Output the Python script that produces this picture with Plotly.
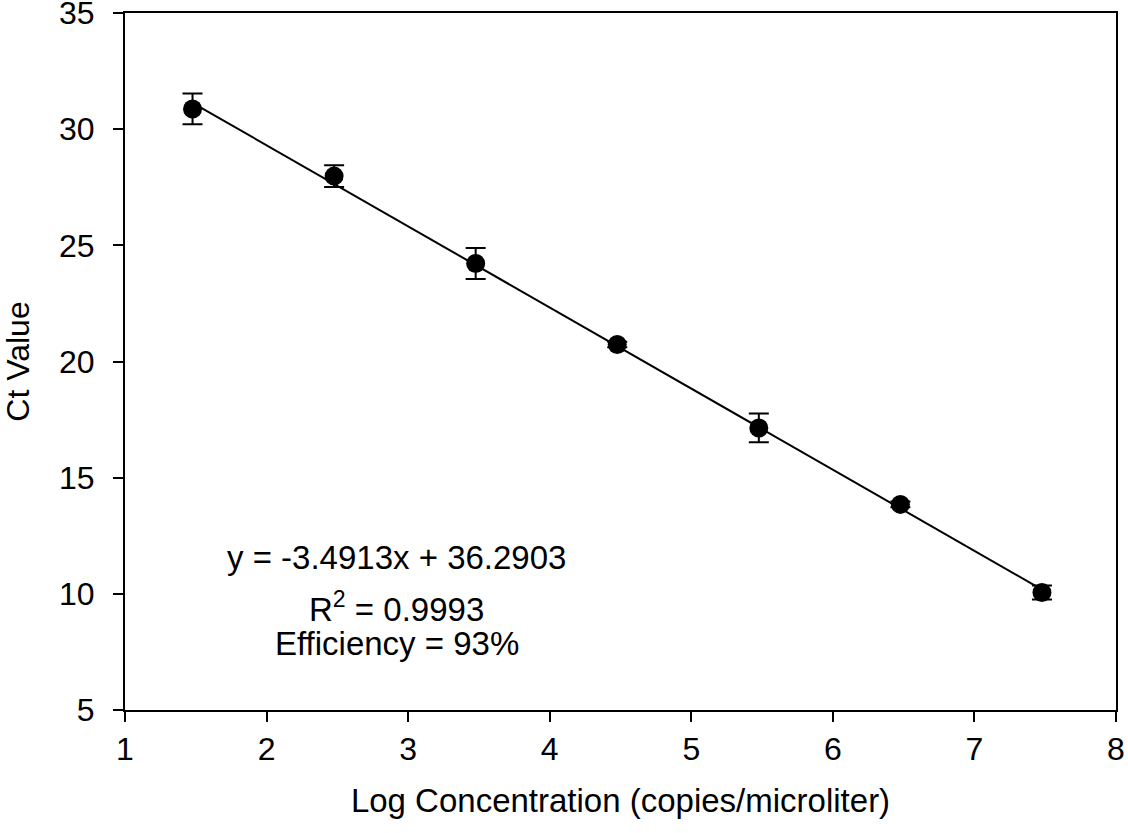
import plotly.graph_objects as go

log_conc = [1.477, 2.477, 3.477, 4.477, 5.477, 6.477, 7.477]
ct_mean = [30.87, 27.98, 24.22, 20.73, 17.14, 13.85, 10.06]
ct_err = [0.66, 0.47, 0.67, 0.12, 0.62, 0.12, 0.30]
slope = -3.4913
intercept = 36.2903
fit_x = [log_conc[0], log_conc[-1]]
fit_y = [slope * v + intercept for v in fit_x]

x_ticks = [1, 2, 3, 4, 5, 6, 7, 8]
y_ticks = [5, 10, 15, 20, 25, 30, 35]

font = "Liberation Sans, Arial, sans-serif"

fig = go.Figure()
fig.add_trace(go.Scatter(x=fit_x, y=fit_y, mode="lines",
                         line=dict(color="black", width=2), showlegend=False))
fig.add_trace(go.Scatter(x=log_conc, y=ct_mean, mode="markers",
                         marker=dict(color="black", size=19),
                         error_y=dict(type="data", array=ct_err, color="black",
                                      thickness=2, width=10),
                         showlegend=False))

ann_lines = ["y = -3.4913x + 36.2903", "R<sup>2</sup> = 0.9993", "Efficiency = 93%"]
ann_y = [11.58, 9.43, 7.85]
for t, yy in zip(ann_lines, ann_y):
    fig.add_annotation(x=2.92, y=yy, xref="x", yref="y", text=t, showarrow=False,
                       yanchor="middle",
                       font=dict(family=font, size=33, color="black"))

fig.update_layout(
    width=1128, height=833,
    margin=dict(l=125, r=12, t=13, b=123),
    plot_bgcolor="white", paper_bgcolor="white",
    font=dict(family=font, size=32, color="black"),
)
fig.update_xaxes(range=[1, 8], tickvals=x_ticks, automargin=False,
                 ticklabeloverflow="allow",
                 showgrid=False, zeroline=False, showline=True, linecolor="black",
                 linewidth=2, mirror=True, ticks="outside", ticklen=10,
                 tickwidth=2, tickcolor="black", tickfont=dict(size=32),
                 title=dict(text="Log Concentration (copies/microliter)",
                            font=dict(size=33), standoff=22))
fig.update_yaxes(range=[5, 35], tickvals=y_ticks, automargin=False,
                 ticklabeloverflow="allow",
                 showgrid=False, zeroline=False, showline=True, linecolor="black",
                 linewidth=2, mirror=True, ticks="outside", ticklen=10,
                 tickwidth=2, tickcolor="black", tickfont=dict(size=32),
                 ticklabelstandoff=12,
                 title=dict(text="Ct Value", font=dict(size=32), standoff=20))

fig.write_html("out.html", config={"displayModeBar": False},
               post_script="document.body.style.margin='0';")
